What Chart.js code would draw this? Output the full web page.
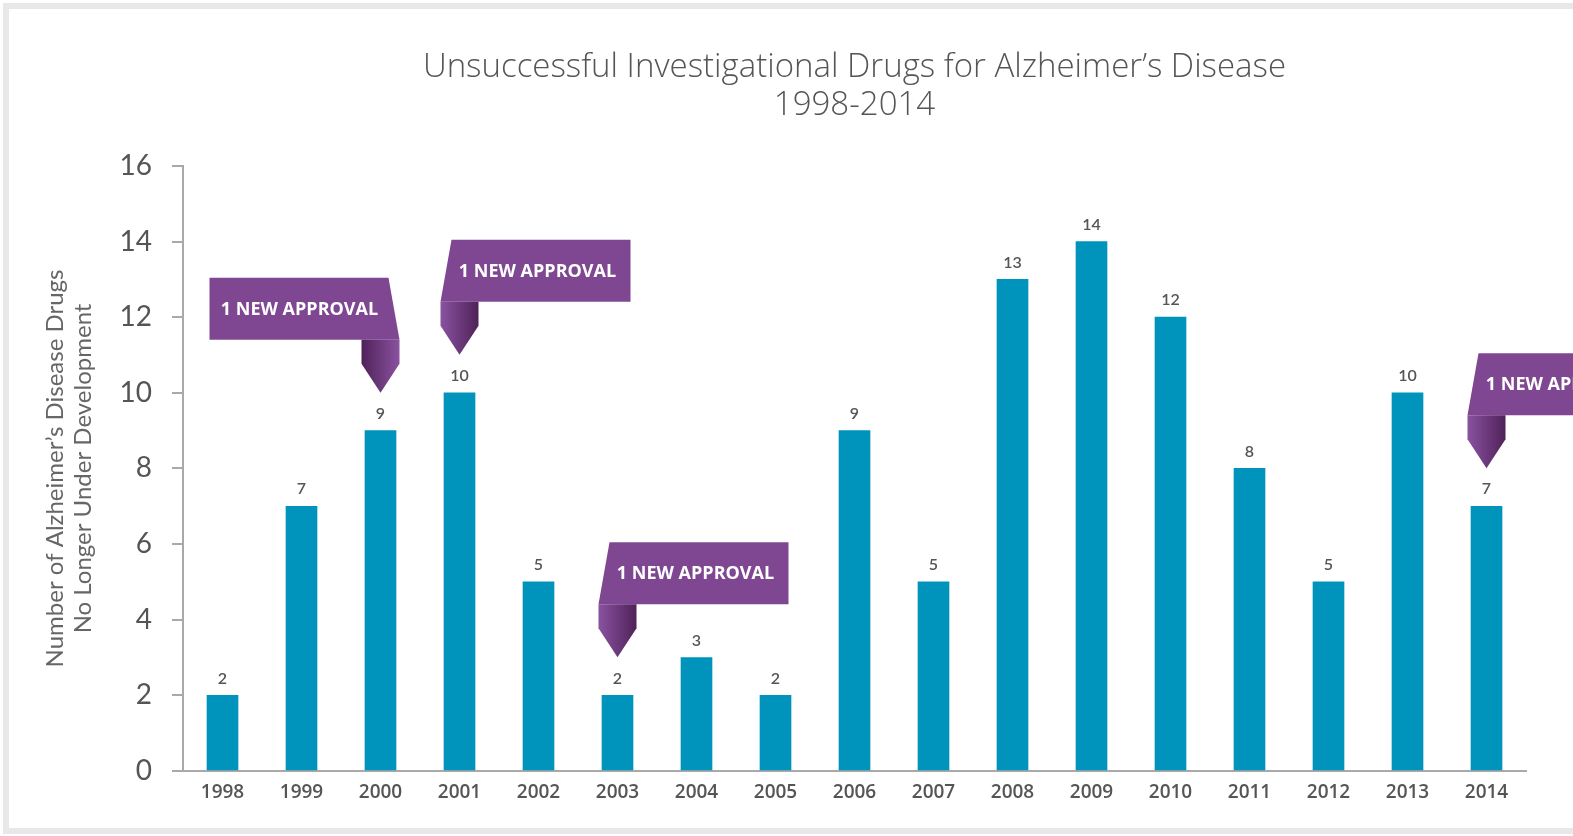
<!DOCTYPE html>
<html>
<head>
<meta charset="utf-8">
<script src="https://cdn.jsdelivr.net/npm/chart.js@4.4.1/dist/chart.umd.min.js"></script>
<style>
html, body { margin:0; padding:0; background:#fff; overflow:hidden; }
#frame { position:absolute; left:3px; top:3px; width:1700px; height:831px; border:6px solid #e8e8e8; box-sizing:border-box; }
#wrap { position:absolute; left:0; top:0; width:1573px; height:836px; }
</style>
</head>
<body>
<div id="frame"></div>
<div id="wrap"><canvas id="result-chart"></canvas></div>
<script>
var years = ['1998','1999','2000','2001','2002','2003','2004','2005','2006','2007','2008','2009','2010','2011','2012','2013','2014'];
var drugCounts = [2,7,9,10,5,2,3,2,9,5,13,14,12,8,5,10,7];
var approvalYears = ['2000','2001','2003','2014'];
var approvalFoldSide = ['right','left','left','left'];
var approvalText = '1 NEW APPROVAL';
var titleLines = ['Unsuccessful Investigational Drugs for Alzheimer\u2019s Disease','1998-2014'];
var yTitleLines = ['Number of Alzheimer\u2019s Disease Drugs','No Longer Under Development'];

// numbers over the bars
var valueLabels = {
      id: 'valueLabels',
      afterDatasetsDraw: function(chart){
            var ctx = chart.ctx;
            var meta = chart.getDatasetMeta(0);
            ctx.save();
            ctx.font = '600 16px Lato';
            ctx.fillStyle = '#555';
            ctx.textAlign = 'center';
            ctx.textBaseline = 'bottom';
            for(var idx = 0; idx < meta.data.length; idx++){
                  ctx.fillText(drugCounts[idx], meta.data[idx].x, meta.data[idx].y - 9);
            }
            ctx.restore();
      }
};

// purple "1 new approval" ribbons
var approvalBanners = {
      id: 'approvalBanners',
      afterDraw: function(chart){
            var ctx = chart.ctx;
            var xs = chart.scales.x, ys = chart.scales.y;
            var foldW = 38, rectW = 190, rectH = 62, slant = 11;
            for(var k = 0; k < approvalYears.length; k++){
                  var i = years.indexOf(approvalYears[k]);
                  var tx = xs.getPixelForValue(i);
                  var ty = ys.getPixelForValue(drugCounts[i]) - 38;
                  var foldTop = ty - 53, foldMid = ty - 29, rectTop = foldTop - rectH;
                  var fx0 = tx - foldW/2, fx1 = tx + foldW/2;
                  var rx0, rx1;
                  ctx.save();
                  ctx.fillStyle = '#7f4791';
                  ctx.beginPath();
                  if(approvalFoldSide[k] == 'right'){
                        rx0 = fx1 - rectW; rx1 = fx1;
                        ctx.moveTo(rx0, rectTop);
                        ctx.lineTo(rx1 - slant, rectTop);
                        ctx.lineTo(rx1, foldTop);
                        ctx.lineTo(rx0, foldTop);
                  } else {
                        rx0 = fx0; rx1 = fx0 + rectW;
                        ctx.moveTo(rx0 + slant, rectTop);
                        ctx.lineTo(rx1, rectTop);
                        ctx.lineTo(rx1, foldTop);
                        ctx.lineTo(rx0, foldTop);
                  }
                  ctx.closePath();
                  ctx.fill();

                  var grad = ctx.createLinearGradient(fx0, 0, fx1, 0);
                  if(approvalFoldSide[k] == 'right'){
                        grad.addColorStop(0, '#4f2259');
                        grad.addColorStop(1, '#8a52a0');
                  } else {
                        grad.addColorStop(0, '#8a52a0');
                        grad.addColorStop(1, '#4f2259');
                  }
                  ctx.fillStyle = grad;
                  ctx.beginPath();
                  ctx.moveTo(fx0, foldTop);
                  ctx.lineTo(fx1, foldTop);
                  ctx.lineTo(fx1, foldMid);
                  ctx.lineTo(tx, ty);
                  ctx.lineTo(fx0, foldMid);
                  ctx.closePath();
                  ctx.fill();

                  ctx.font = 'bold 18px "Open Sans"';
                  ctx.fillStyle = '#fff';
                  ctx.textAlign = 'center';
                  ctx.textBaseline = 'middle';
                  var cx = (rx0 + rx1) / 2 + (approvalFoldSide[k] == 'right' ? -5 : 2);
                  ctx.fillText(approvalText, cx, rectTop + rectH/2 + 1);
                  ctx.restore();
            }
      }
};

var ctx = document.getElementById('result-chart').getContext('2d');
var chart = new Chart(ctx, {
      type: 'bar',
      data: {
            labels: years,
            datasets: [{
                  data: drugCounts,
                  backgroundColor: '#0093bb',
                  barThickness: 31
            }]
      },
      options: {
            responsive: true,
            maintainAspectRatio: false,
            animation: false,
            layout: { padding: { left: 0, right: 47, top: 0, bottom: 0 } },
            plugins: {
                  legend: { display: false },
                  tooltip: { enabled: false },
                  title: {
                        display: true,
                        fullSize: false,
                        text: titleLines,
                        color: '#555',
                        font: { family: 'Open Sans', size: 33, weight: '300', lineHeight: 1.15 },
                        padding: { top: 49, bottom: 41 }
                  }
            },
            scales: {
                  x: {
                        afterFit: function(scale){ scale.height = 65; },
                        grid: { display: true, drawOnChartArea: false, drawTicks: false, color: 'rgba(0,0,0,0)' },
                        border: { display: true, color: '#a9a9a9', width: 2 },
                        ticks: { color: '#555', padding: 10, font: { family: 'Open Sans', size: 19, weight: '600' } }
                  },
                  y: {
                        min: 0,
                        max: 16,
                        afterFit: function(scale){ scale.width = 183; },
                        grid: { display: true, drawOnChartArea: false, drawTicks: true, tickLength: 11, color: '#a9a9a9', lineWidth: 2 },
                        border: { display: true, color: '#a9a9a9', width: 2 },
                        ticks: { stepSize: 2, color: '#555', padding: 20, font: { family: 'Lato', size: 28 } },
                        title: {
                              display: true,
                              text: yTitleLines,
                              color: '#666',
                              font: { family: 'Lato', size: 24, lineHeight: 1.17 },
                              padding: { top: 41, bottom: 0 }
                        }
                  }
            }
      },
      plugins: [valueLabels, approvalBanners]
});
</script>
</body>
</html>
